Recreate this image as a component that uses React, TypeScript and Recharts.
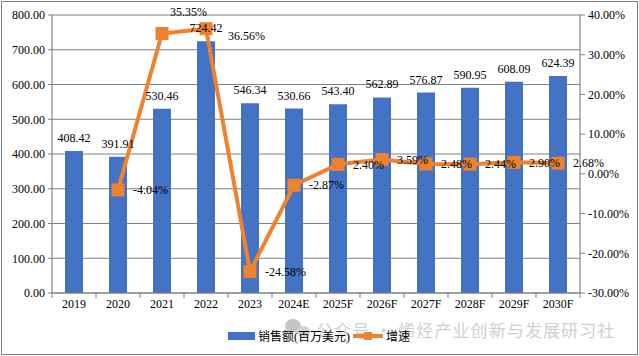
import React from "react";
import {
  ComposedChart,
  Bar,
  Line,
  XAxis,
  YAxis,
  CartesianGrid,
  Legend,
  LabelList,
} from "recharts";

const years = ["2019", "2020", "2021", "2022", "2023", "2024E", "2025F", "2026F", "2027F", "2028F", "2029F", "2030F"];
const sales = [408.42, 391.91, 530.46, 724.42, 546.34, 530.66, 543.4, 562.89, 576.87, 590.95, 608.09, 624.39];
const growth = [null, -4.04, 35.35, 36.56, -24.58, -2.87, 2.4, 3.59, 2.48, 2.44, 2.9, 2.68];
const salesTicks = [0, 100, 200, 300, 400, 500, 600, 700, 800];
const growthTicks = [-30, -20, -10, 0, 10, 20, 30, 40];

const data = years.map((year, i) => ({ year, sales: sales[i], growth: growth[i] }));

const AXIS_COLOR = "#808080";
const BAR_COLOR = "#4472C4";
const LINE_COLOR = "#EE822F";
const FONT = '"Liberation Serif", "Noto Sans CJK SC", serif';
const BAND = 44;

// the two labels that Excel moved away from the usual right-hand spot
const labelNudge: Record<number, [number, number]> = {
  2: [8, -22],
  3: [22, 7],
};

function GrowthLabel(props: any) {
  const { x, y, value, index } = props;
  if (value == null) return null;
  const [dx, dy] = labelNudge[index] ?? [15, 0];
  return (
    <text x={x + dx} y={y + dy} dy="0.35em" fontSize={12} fontFamily={FONT} fill="#000">
      {value.toFixed(2)}%
    </text>
  );
}

// ticks sit between the categories, not under them
function YearTick(props: any) {
  const { x, y, payload, index } = props;
  return (
    <g>
      <line x1={x - BAND / 2} x2={x - BAND / 2} y1={y - 8} y2={y - 3} stroke={AXIS_COLOR} />
      {index === years.length - 1 && (
        <line x1={x + BAND / 2} x2={x + BAND / 2} y1={y - 8} y2={y - 3} stroke={AXIS_COLOR} />
      )}
      <text x={x} y={y + 7} textAnchor="middle" fontSize={12} fontFamily={FONT} fill="#000">
        {payload.value}
      </text>
    </g>
  );
}

function LegendContent({ payload }: any) {
  const items = (payload ?? []).filter((entry: any) => entry.type !== "none");
  return (
    <div style={{ display: "flex", alignItems: "center", fontSize: 12, fontFamily: FONT, color: "#000" }}>
      {items.map((entry: any) => (
        <div key={entry.value} style={{ display: "flex", alignItems: "center", marginRight: 3 }}>
          {entry.type === "line" ? (
            <svg width={30} height={10} style={{ marginRight: 3 }}>
              <line x1={0} x2={30} y1={5} y2={5} stroke={LINE_COLOR} strokeWidth={4} />
              <rect x={11} y={1} width={8} height={8} fill={LINE_COLOR} />
            </svg>
          ) : (
            <div style={{ width: 27, height: 8, background: BAR_COLOR, marginRight: 3 }} />
          )}
          {entry.value}
        </div>
      ))}
    </div>
  );
}

export default function App() {
  return (
    <div style={{ position: "absolute", left: 0, top: 0, width: 639, height: 356, background: "#fff", overflow: "hidden" }}>
      <div
        style={{
          position: "absolute",
          left: 1,
          top: 1,
          width: 635,
          height: 352,
          border: `1px solid ${AXIS_COLOR}`,
        }}
      />
      <div
        style={{
          position: "absolute",
          left: 316,
          top: 317,
          fontSize: 17,
          letterSpacing: 1.1,
          whiteSpace: "nowrap",
          color: "#d0d0d0",
          fontFamily: '"Noto Sans CJK SC", sans-serif',
        }}
      >
        公众号 · 烯烃产业创新与发展研习社
      </div>
      <div style={{ position: "absolute", left: 285, top: 319, width: 16, height: 14, borderRadius: "50%", background: "#c4c4c4" }} />
      <div style={{ position: "absolute", left: 297, top: 326, width: 13, height: 12, borderRadius: "50%", background: "#d2d2d2" }} />
      <ComposedChart
        width={639}
        height={356}
        data={data}
        margin={{ top: 15, right: 0, bottom: 0, left: 0 }}
        style={{ position: "absolute", left: 0, top: 0 }}
      >
        <CartesianGrid vertical={false} stroke={AXIS_COLOR} strokeWidth={1.2} yAxisId="sales" />
        <XAxis
          dataKey="year"
          height={63}
          tickLine={false}
          axisLine={{ stroke: AXIS_COLOR, strokeWidth: 1.2 }}
          interval={0}
          tick={<YearTick />}
        />
        <YAxis
          yAxisId="sales"
          width={52}
          domain={[0, 800]}
          ticks={salesTicks}
          interval={0}
          tickSize={4}
          tickMargin={3}
          tickFormatter={(v: number) => v.toFixed(2)}
          tick={{ fontSize: 12, fontFamily: FONT, fill: "#000" }}
          tickLine={{ stroke: AXIS_COLOR }}
          axisLine={{ stroke: AXIS_COLOR, strokeWidth: 1.2 }}
        />
        <YAxis
          yAxisId="growth"
          orientation="right"
          width={59}
          domain={[-30, 40]}
          ticks={growthTicks}
          interval={0}
          tickSize={5}
          tickMargin={3}
          tickFormatter={(v: number) => `${v.toFixed(2)}%`}
          tick={{ fontSize: 12, fontFamily: FONT, fill: "#000" }}
          tickLine={{ stroke: AXIS_COLOR }}
          axisLine={{ stroke: AXIS_COLOR, strokeWidth: 1.2 }}
        />
        <Bar
          yAxisId="sales"
          dataKey="sales"
          name="销售额(百万美元)"
          fill={BAR_COLOR}
          barSize={18}
          isAnimationActive={false}
        />
        <Line
          yAxisId="growth"
          dataKey="growth"
          name="增速"
          stroke={LINE_COLOR}
          strokeWidth={4}
          connectNulls={false}
          dot={(p: any) =>
            p.value == null ? (
              <g key={p.index} />
            ) : (
              <rect key={p.index} x={p.cx - 6.5} y={p.cy - 6.5} width={13} height={13} fill={LINE_COLOR} />
            )
          }
          isAnimationActive={false}
        >
          <LabelList dataKey="growth" content={<GrowthLabel />} />
        </Line>
        {/* invisible carrier so the bar values print on top of the orange line */}
        <Line
          yAxisId="sales"
          dataKey="sales"
          stroke="none"
          dot={false}
          legendType="none"
          isAnimationActive={false}
        >
          <LabelList
            dataKey="sales"
            position="top"
            offset={9}
            fontSize={12}
            fontFamily={FONT}
            fill="#000"
            formatter={(v: number) => v.toFixed(2)}
          />
        </Line>
        <Legend
          verticalAlign="middle"
          itemSorter={null}
          content={<LegendContent />}
          wrapperStyle={{ position: "absolute", left: 228, top: 327, width: "auto", bottom: "auto" }}
        />
      </ComposedChart>
    </div>
  );
}
